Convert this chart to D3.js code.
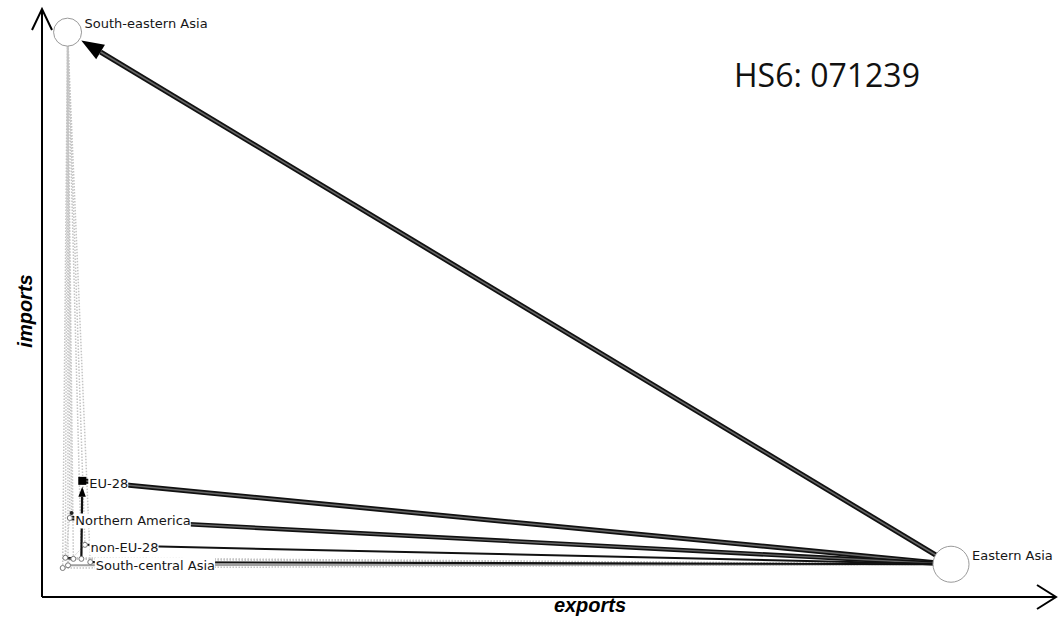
<html>
<head>
<script src="https://d3js.org/d3.v7.min.js"></script>
<style>
  body { margin: 0; background: #fff; }
  .lbl { font-family: "DejaVu Sans", sans-serif; font-size: 13px; fill: #161616; }
  .axis-title { font-family: "Liberation Sans", sans-serif; font-size: 20px; font-weight: bold; font-style: italic; fill: #000; }
  .hs { font-family: "Open Sans", sans-serif; font-size: 32px; fill: #111; }
</style>
</head>
<body>
<svg width=1063 height=617></svg>
<script>

// regions (nodes) - exports / imports (relative units, Eastern Asia exports = 100)
var regionIds  = ["South-eastern Asia", "Eastern Asia", "EU-28", "Northern America", "non-EU-28", "South-central Asia",
                  "other1", "other2", "other3", "other4", "other5", "other6"];
var showLabel  = [true, true, true, true, true, true, false, false, false, false, false, false];
var exportsVal = [0.85, 100, 2.5, 1.1, 2.8, 3.4, 0.6, 0.3, 1.5, 2.4, 1.3, 0.9];
var importsVal = [99.6, 0.7, 16.2, 9.3, 4.3, 1.1, 1.9, 0.0, 1.7, 1.7, 10.2, 0.5];
var nodeSize   = [14, 18, 4, 2.5, 2.5, 2.5, 2.5, 2.5, 2.5, 2.5, 2, 2.5];
var nodeShape  = ["circle", "circle", "square", "circle", "circle", "circle", "circle", "circle", "circle", "circle", "dot", "circle"];

// trade flows (edges)
var flowFrom   = ["Eastern Asia", "Eastern Asia", "Eastern Asia", "Eastern Asia", "Eastern Asia", "other4", "other3", "Eastern Asia",
                  "Eastern Asia", "Eastern Asia", "Eastern Asia",
                  "other1", "other2", "other3", "other4", "other6", "Northern America", "non-EU-28", "South-central Asia", "other5", "Northern America", "non-EU-28"];
var flowTo     = ["South-eastern Asia", "EU-28", "Northern America", "non-EU-28", "South-central Asia", "EU-28", "other1", "other6",
                  "other3", "other1", "other2",
                  "South-eastern Asia", "South-eastern Asia", "South-eastern Asia", "South-eastern Asia", "South-eastern Asia", "South-eastern Asia", "South-eastern Asia", "South-eastern Asia", "South-eastern Asia", "other1", "other2"];
var flowWeight = [5, 5, 4.5, 2, 2.2, 2.2, 2.5, 2,
                  2, 1.5, 1.5,
                  1.5, 1.5, 1.5, 1.5, 1.5, 1.5, 1.5, 1.5, 1.5, 1, 1];
var flowType   = ["solid", "solid", "solid", "solid", "solid", "solid", "solid", "grey",
                  "dotted", "dotted", "dotted",
                  "dotted", "dotted", "dotted", "dotted", "dotted", "dotted", "dotted", "dotted", "dotted", "dotted", "dotted"];
var flowArrow  = [true, false, false, false, false, true, false, false,
                  false, false, false,
                  false, false, false, false, false, false, false, false, false, false, false];

var title = "HS6: 071239";

var svg = d3.select("svg");

var x = d3.scaleLinear().domain([0, 100]).range([60, 951]);
var y = d3.scaleLinear().domain([0, 100]).range([568, 30]);

var nodes = regionIds.map(function(id, i) {
  return { id: id, x: x(exportsVal[i]), y: y(importsVal[i]), r: nodeSize[i], shape: nodeShape[i], label: showLabel[i] };
});
var byId = {};
nodes.forEach(function(n) { byId[n.id] = n; });

var flows = flowFrom.map(function(f, i) {
  return { s: byId[f], t: byId[flowTo[i]], w: flowWeight[i], type: flowType[i], arrow: flowArrow[i] };
});

//axes
var axes = svg.append("g").attr("stroke", "#000").attr("stroke-width", 2).attr("fill", "none");
axes.append("line").attr("x1", 42).attr("y1", 597).attr("x2", 42).attr("y2", 9);
axes.append("polyline").attr("points", "32,30 42,9 52,30");
axes.append("line").attr("x1", 42).attr("y1", 597).attr("x2", 1056).attr("y2", 597);
axes.append("polyline").attr("points", "1037,585 1056,597 1037,609");

svg.append("text").attr("class", "axis-title")
  .attr("x", 590).attr("y", 612).attr("text-anchor", "middle").text("exports");
svg.append("text").attr("class", "axis-title")
  .attr("transform", "translate(32,311) rotate(-90)").attr("text-anchor", "middle").text("imports");

svg.append("text").attr("class", "hs").attr("x", 734).attr("y", 87).text(title);

//edges
var eg = svg.append("g");

function drawFlow(d) {
  var dx = d.t.x - d.s.x, dy = d.t.y - d.s.y;
  var len = Math.sqrt(dx * dx + dy * dy);
  var ux = dx / len, uy = dy / len;
  var gap = d.arrow ? d.t.r + 2 : 0;
  var tipX = d.t.x - ux * gap, tipY = d.t.y - uy * gap;
  var aLen = d.arrow ? 4.5 * d.w : 0;
  var aW = 1.7 * d.w;
  var ex = tipX - ux * aLen, ey = tipY - uy * aLen;

  if (d.type === "dotted") {
    eg.append("line")
      .attr("x1", d.s.x).attr("y1", d.s.y).attr("x2", ex).attr("y2", ey)
      .attr("stroke", "#c4c4c4").attr("stroke-width", d.w).attr("stroke-dasharray", "1.5,1.5");
    return;
  }
  var col = d.type === "grey" ? "#a0a0a0" : "#111";
  eg.append("line")
    .attr("x1", d.s.x).attr("y1", d.s.y).attr("x2", ex).attr("y2", ey)
    .attr("stroke", col).attr("stroke-width", d.w);
  if (d.w >= 2.5) {
    eg.append("line")
      .attr("x1", d.s.x).attr("y1", d.s.y).attr("x2", ex).attr("y2", ey)
      .attr("stroke", "#666").attr("stroke-width", d.w * 0.3);
  }
  if (d.arrow) {
    var px = -uy, py = ux;
    eg.append("polygon")
      .attr("points", [[tipX, tipY], [ex + px * aW, ey + py * aW], [ex - px * aW, ey - py * aW]].join(" "))
      .attr("fill", "#000");
  }
}
flows.filter(function(d) { return d.type === "dotted"; }).forEach(drawFlow);
flows.filter(function(d) { return d.type === "grey"; }).forEach(drawFlow);
flows.filter(function(d) { return d.type === "solid"; }).forEach(drawFlow);

//nodes
var ng = svg.append("g");
nodes.forEach(function(n) {
  if (n.shape === "square") {
    ng.append("rect").attr("x", n.x - n.r).attr("y", n.y - n.r)
      .attr("width", 2 * n.r).attr("height", 2 * n.r).attr("fill", "#000");
  } else if (n.shape === "dot") {
    ng.append("circle").attr("cx", n.x).attr("cy", n.y).attr("r", n.r).attr("fill", "#222");
  } else {
    ng.append("circle").attr("cx", n.x).attr("cy", n.y).attr("r", n.r)
      .attr("fill", "#fff").attr("stroke", n.r > 5 ? "#9a9a9a" : "#777").attr("stroke-width", 1);
  }
});

//labels with white box over the edges
var lg = svg.append("g");
nodes.filter(function(n) { return n.label; }).forEach(function(n) {
  var big = n.r > 5;
  var g = lg.append("g");
  var bg = g.append("rect").attr("fill", "#fff");
  var t = g.append("text").attr("class", "lbl")
    .attr("x", n.x + n.r + 3)
    .attr("y", big ? n.y - 8 : n.y + 4)
    .attr("dominant-baseline", "middle")
    .text(n.id);
  var b = t.node().getBBox();
  bg.attr("x", b.x - 1).attr("y", b.y).attr("width", b.width + 1).attr("height", b.height);
});

</script>
</body>
</html>
